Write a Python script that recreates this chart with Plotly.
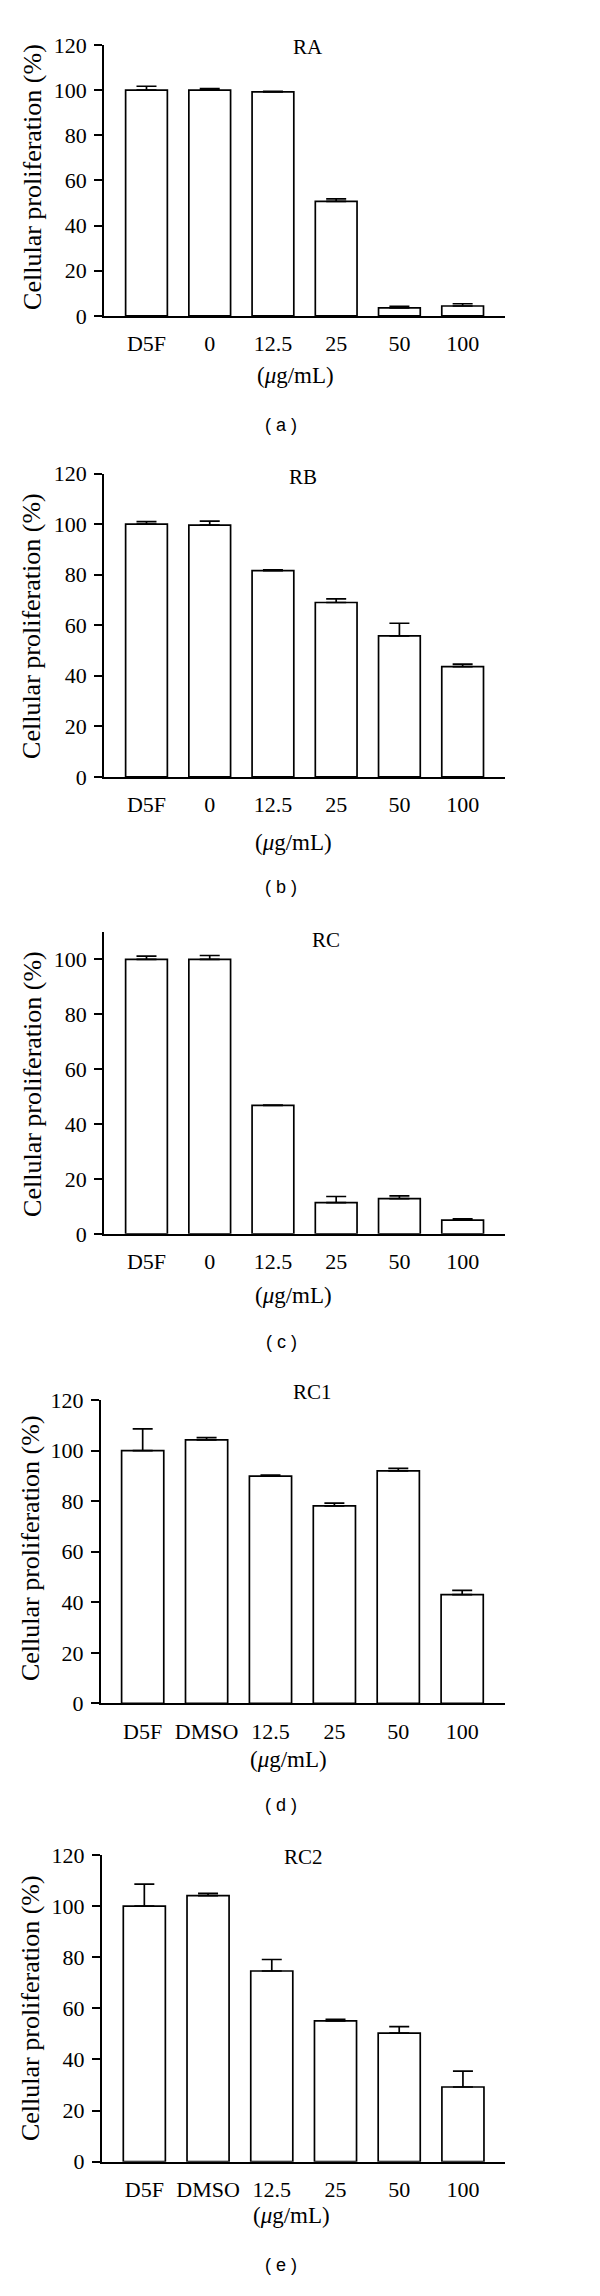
import plotly.graph_objects as go

# ---------------- data ----------------
categories_abc = ["D5F", "0", "12.5", "25", "50", "100"]
categories_de = ["D5F", "DMSO", "12.5", "25", "50", "100"]

ra_values = [100, 100, 99.2, 50.7, 3.6, 4.4]
ra_errors = [1.7, 0.7, 0.2, 1.1, 0.6, 1.0]

rb_values = [100, 99.6, 81.6, 69.0, 55.8, 43.6]
rb_errors = [1.0, 1.6, 0.3, 1.4, 5.0, 1.0]

rc_values = [100, 100, 46.8, 11.4, 12.8, 5.0]
rc_errors = [1.2, 1.4, 0.1, 2.2, 1.0, 0.5]

rc1_values = [100, 104.2, 89.9, 78.1, 92.0, 43.0]
rc1_errors = [8.6, 0.9, 0.4, 1.1, 1.0, 1.7]

rc2_values = [100, 104.1, 74.6, 55.1, 50.3, 29.2]
rc2_errors = [8.6, 0.9, 4.5, 0.6, 2.5, 6.2]

titles = ["RA", "RB", "RC", "RC1", "RC2"]
panel_letters = ["( a )", "( b )", "( c )", "( d )", "( e )"]
unit_label = "(<i>\u03bc</i>g/mL)"
y_title = "Cellular proliferation (%)"

# ---------------- layout geometry (pixels) ----------------
W, H = 600, 2296
SERIF = "Liberation Serif"
SANS = "Liberation Sans"

panels = [
    dict(cats=categories_abc, vals=ra_values, errs=ra_errors, ytop=33.3, ybot=307.3,
         xl=104, xr=505, xrange=[-0.672, 5.67], yrange=[0, 120], ticks=list(range(0, 121, 20)),
         title_x=308, title_y=35, unit_x=295, unit_y=368, let_y=418, ylab_x=31.7, ylab_y=167),
    dict(cats=categories_abc, vals=rb_values, errs=rb_errors, ytop=466.7, ybot=773.3,
         xl=104, xr=505, xrange=[-0.672, 5.67], yrange=[0, 120], ticks=list(range(0, 121, 20)),
         title_x=303, title_y=470, unit_x=293, unit_y=840, let_y=885, ylab_x=31.7, ylab_y=621),
    dict(cats=categories_abc, vals=rc_values, errs=rc_errors, ytop=930, ybot=1235.3,
         xl=104, xr=505, xrange=[-0.672, 5.67], yrange=[0, 110], ticks=list(range(0, 101, 20)),
         title_x=326, title_y=938, unit_x=293, unit_y=1298, let_y=1345, ylab_x=31.7, ylab_y=1084),
    dict(cats=categories_de, vals=rc1_values, errs=rc1_errors, ytop=1403.3, ybot=1710,
         xl=100.7, xr=505, xrange=[-0.657, 5.67], yrange=[0, 120], ticks=list(range(0, 121, 20)),
         title_x=312, title_y=1395, unit_x=288, unit_y=1767, let_y=1813, ylab_x=30, ylab_y=1553),
    dict(cats=categories_de, vals=rc2_values, errs=rc2_errors, ytop=1863.3, ybot=2173.3,
         xl=101.7, xr=505, xrange=[-0.669, 5.66], yrange=[0, 120], ticks=list(range(0, 121, 20)),
         title_x=303, title_y=1865, unit_x=291, unit_y=2228, let_y=2278, ylab_x=30, ylab_y=2018),
]


def px(x):
    return x / W


def py(y):
    return 1 - y / H


fig = go.Figure()
annotations = []
LW = 1.7

for i, p in enumerate(panels):
    n = i + 1
    xa = "x" if n == 1 else f"x{n}"
    ya = "y" if n == 1 else f"y{n}"
    fig.add_trace(go.Bar(
        x=p["cats"], y=p["vals"], xaxis=xa, yaxis=ya, width=0.66,
        marker=dict(color="white", line=dict(color="black", width=LW)),
        error_y=dict(type="data", symmetric=False, array=p["errs"],
                     arrayminus=[0] * len(p["errs"]), color="black",
                     thickness=LW, width=10),
        showlegend=False, hoverinfo="x+y",
    ))
    xkey = "xaxis" if n == 1 else f"xaxis{n}"
    ykey = "yaxis" if n == 1 else f"yaxis{n}"
    fig.layout[xkey] = dict(
        domain=[px(p["xl"]), px(p["xr"])], range=p["xrange"], type="category",
        anchor=ya, showline=True, linecolor="black", linewidth=LW,
        ticks="", showgrid=False, zeroline=False,
        tickfont=dict(family=SERIF, size=22, color="black"),
        ticklabelstandoff=7, fixedrange=True,
    )
    fig.layout[ykey] = dict(
        domain=[py(p["ybot"]), py(p["ytop"])], range=p["yrange"],
        anchor=xa, showline=True, linecolor="black", linewidth=LW,
        ticks="outside", ticklen=8, tickwidth=LW, tickcolor="black",
        tickvals=p["ticks"], showgrid=False, zeroline=False,
        tickfont=dict(family=SERIF, size=22, color="black"),
        ticklabelstandoff=3, fixedrange=True,
    )
    annotations.append(dict(text=titles[i], x=px(p["title_x"]), y=py(p["title_y"]),
                            xref="paper", yref="paper", showarrow=False,
                            xanchor="center", yanchor="middle",
                            font=dict(family=SERIF, size=21, color="black")))
    annotations.append(dict(text=unit_label, x=px(p["unit_x"]), y=py(p["unit_y"]),
                            xref="paper", yref="paper", showarrow=False,
                            xanchor="center", yanchor="middle",
                            font=dict(family=SERIF, size=23, color="black")))
    annotations.append(dict(text=panel_letters[i], x=px(281), y=py(p["let_y"]),
                            xref="paper", yref="paper", showarrow=False,
                            xanchor="center", yanchor="middle",
                            font=dict(family=SANS, size=18, color="black")))
    annotations.append(dict(text=y_title, x=px(p["ylab_x"]), y=py(p["ylab_y"]),
                            xref="paper", yref="paper", showarrow=False,
                            textangle=-90, xanchor="center", yanchor="middle",
                            font=dict(family=SERIF, size=26, color="black")))

fig.update_layout(
    width=W, height=H, margin=dict(l=0, r=0, t=0, b=0),
    paper_bgcolor="white", plot_bgcolor="white",
    annotations=annotations, showlegend=False, bargap=0.34,
)

fig.write_html("out.html", config={"displayModeBar": False},
               post_script="document.body.style.margin='0';document.body.style.padding='0';")
